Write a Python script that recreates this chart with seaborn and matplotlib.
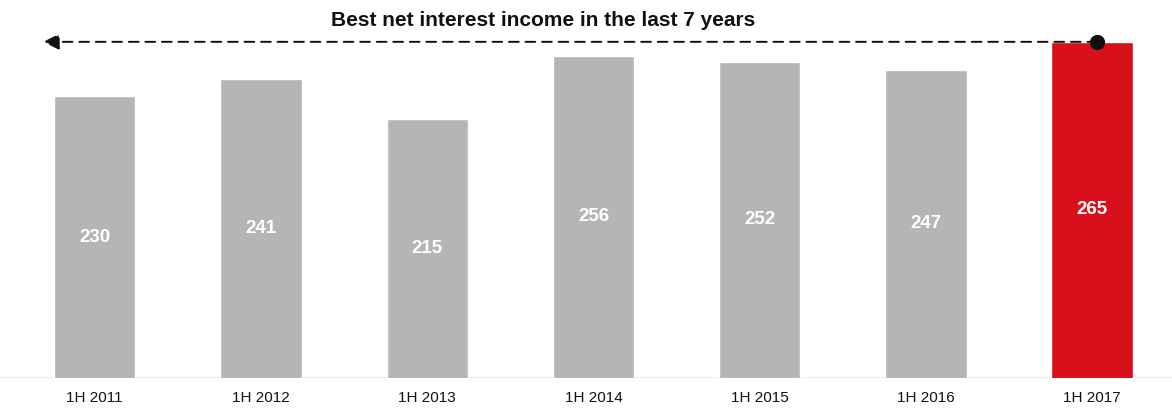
import matplotlib
matplotlib.use("Agg")
import matplotlib.pyplot as plt
import seaborn as sns
import pandas as pd

categories = ["1H 2011", "1H 2012", "1H 2013", "1H 2014", "1H 2015", "1H 2016", "1H 2017"]
values = [230, 241, 215, 256, 252, 247, 265]
bar_colors = ["#b5b5b5"] * 6 + ["#d8101c"]
title_text = "Best net interest income in the last 7 years"

sns.set_theme(style="white")
plt.rcParams['font.family'] = ['Liberation Sans', 'DejaVu Sans']

df = pd.DataFrame({"period": categories, "value": values})

fig = plt.figure(figsize=(11.72, 4.12), dpi=100)
ax = fig.add_axes([0, 0.0825, 1, 0.9175])

sns.barplot(data=df, x="period", y="value", hue="period", palette=bar_colors,
            width=0.49, legend=False, ax=ax, saturation=1)

ymin, ymax = 48, 292
ax.set_ylim(ymin, ymax)
ax.set_xlim(-0.57, 6.48)

for i, v in enumerate(values):
    ax.text(i, (ymin + v) / 2, str(v), ha="center", va="center", color="white",
            fontsize=13.5, fontweight="bold")

# baseline
ax.axhline(ymin + 0.3, color="#e6e6e6", lw=1.2, zorder=0)

# dashed arrow from the 2017 bar to the left
top_idx = values.index(max(values))
ax.annotate("", xy=(-0.31, max(values)), xytext=(top_idx + 0.03, max(values)),
            arrowprops=dict(arrowstyle="-|>", linestyle=(0, (5, 3.5)), color="#111111",
                            lw=1.4, mutation_scale=24, shrinkA=0, shrinkB=0))
ax.plot([top_idx + 0.03], [max(values)], "o", color="#111111", markersize=10, zorder=5)

ax.text(2.7, 279, title_text, ha="center", va="center", fontsize=15,
        fontweight="bold", color="#111111")

ax.set_xlabel("")
ax.set_ylabel("")
ax.set_yticks([])
ax.tick_params(axis="x", length=0, labelsize=11, pad=9, colors="#111111")
for s in ax.spines.values():
    s.set_visible(False)

fig.savefig("out.png", dpi=100)
